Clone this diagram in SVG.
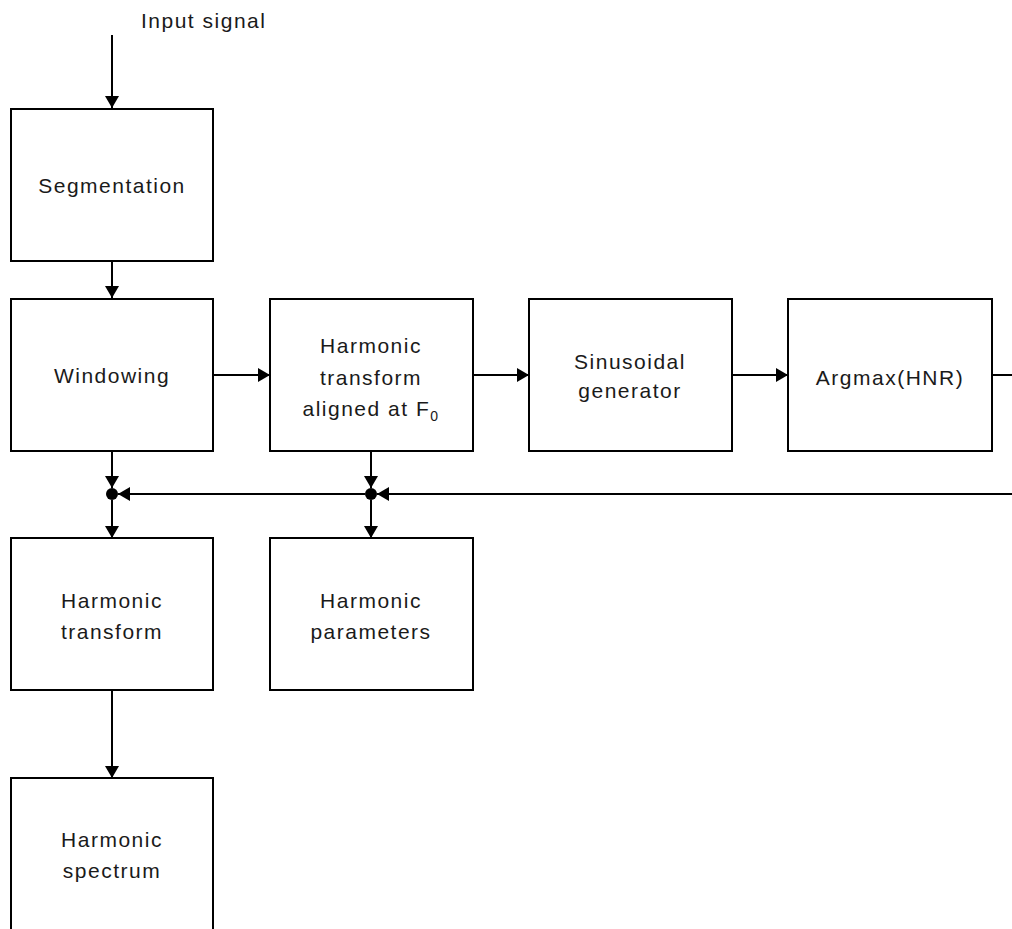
<svg xmlns="http://www.w3.org/2000/svg" width="1012" height="929" viewBox="0 0 1012 929">
<style>
.box{fill:#fff;stroke:#000;stroke-width:2}
.t{font-family:"Liberation Sans",Arial,sans-serif;font-size:21px;letter-spacing:1.5px;fill:#1a1a1a;text-anchor:middle}
.ln{stroke:#000;stroke-width:2;fill:none}
</style>
<defs>
<marker id="ah" markerWidth="14" markerHeight="14" refX="12" refY="7" orient="auto" markerUnits="userSpaceOnUse">
<path d="M0,0 L12,7 L0,14 Z" fill="#000"/>
</marker>
</defs>
<text class="t" x="141" y="28" style="text-anchor:start">Input signal</text>
<g id="connectors">
<line class="ln" x1="112" y1="35" x2="112" y2="108" marker-end="url(#ah)"/>
<line class="ln" x1="112" y1="260" x2="112" y2="298" marker-end="url(#ah)"/>
<line class="ln" x1="213" y1="375" x2="270" y2="375" marker-end="url(#ah)"/>
<line class="ln" x1="473" y1="375" x2="529" y2="375" marker-end="url(#ah)"/>
<line class="ln" x1="732" y1="375" x2="788" y2="375" marker-end="url(#ah)"/>
<line class="ln" x1="992" y1="375" x2="1012" y2="375"/>
<line class="ln" x1="1012" y1="494" x2="377" y2="494" marker-end="url(#ah)"/>
<line class="ln" x1="365" y1="494" x2="118" y2="494" marker-end="url(#ah)"/>
<line class="ln" x1="112" y1="451" x2="112" y2="488" marker-end="url(#ah)"/>
<line class="ln" x1="371" y1="451" x2="371" y2="488" marker-end="url(#ah)"/>
<line class="ln" x1="112" y1="500" x2="112" y2="538" marker-end="url(#ah)"/>
<line class="ln" x1="371" y1="500" x2="371" y2="538" marker-end="url(#ah)"/>
<line class="ln" x1="112" y1="691" x2="112" y2="778" marker-end="url(#ah)"/>
<circle cx="112" cy="494" r="6" fill="#000"/>
<circle cx="371" cy="494" r="6" fill="#000"/>
</g>
<g id="segmentation">
<rect class="box" x="11" y="109" width="202" height="152"/>
<text class="t" x="112" y="193">Segmentation</text>
</g>
<g id="windowing">
<rect class="box" x="11" y="299" width="202" height="152"/>
<text class="t" x="112" y="383">Windowing</text>
</g>
<g id="harmonic-aligned">
<rect class="box" x="270" y="299" width="203" height="152"/>
<text class="t" x="371" y="353">Harmonic</text>
<text class="t" x="371" y="385">transform</text>
<text class="t" x="371" y="416">aligned at F<tspan font-size="14" dy="5">0</tspan></text>
</g>
<g id="sinusoidal">
<rect class="box" x="529" y="299" width="203" height="152"/>
<text class="t" x="630" y="369">Sinusoidal</text>
<text class="t" x="630" y="398">generator</text>
</g>
<g id="argmax">
<rect class="box" x="788" y="299" width="204" height="152"/>
<text class="t" x="890" y="385">Argmax(HNR)</text>
</g>
<g id="harmonic-transform">
<rect class="box" x="11" y="538" width="202" height="152"/>
<text class="t" x="112" y="608">Harmonic</text>
<text class="t" x="112" y="639">transform</text>
</g>
<g id="harmonic-parameters">
<rect class="box" x="270" y="538" width="203" height="152"/>
<text class="t" x="371" y="608">Harmonic</text>
<text class="t" x="371" y="639">parameters</text>
</g>
<g id="harmonic-spectrum">
<rect class="box" x="11" y="778" width="202" height="170"/>
<text class="t" x="112" y="847">Harmonic</text>
<text class="t" x="112" y="878">spectrum</text>
</g>
</svg>
